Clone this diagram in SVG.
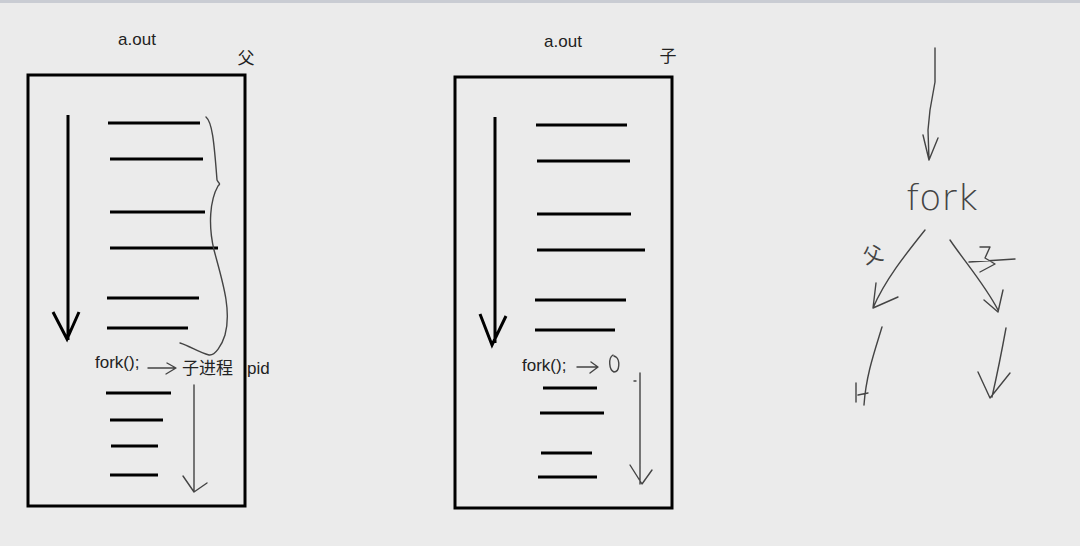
<svg xmlns="http://www.w3.org/2000/svg" width="1080" height="546" viewBox="0 0 1080 546">
<style>
.box{fill:none;stroke:#000;stroke-width:3}
.bar{stroke:#000;stroke-width:3;fill:none;stroke-linecap:butt}
.big{stroke:#000;stroke-width:3;fill:none;stroke-linejoin:miter}
.pen{stroke:#444;stroke-width:1.4;fill:none;stroke-linecap:round;stroke-linejoin:round}
.t{font-family:"Liberation Sans",Arial,sans-serif;font-size:17px;fill:#222}
.cjk{font-family:"Liberation Sans","Noto Sans CJK SC",sans-serif;font-size:17px;fill:#222}
.hand{font-family:"DejaVu Sans","Noto Sans CJK SC",sans-serif;fill:#444}
</style>
<rect width="1080" height="546" fill="#ebebeb"/>
<rect width="1080" height="3" fill="#c9ccd3"/>

<g id="parent">
<rect class="box" x="28" y="75" width="217" height="431"/>
<text class="t" x="137" y="45" text-anchor="middle">a.out</text>
<text class="cjk" x="246" y="64" text-anchor="middle" font-size="15">父</text>
<path class="big" d="M68 115V340M53 312L67 339L79 312"/>
<path class="bar" d="M108 123H200M110 159H203M110 212H205M110 248H218M107 298H199M107 328H188M106 393H171M110 420H163M111 446H158M110 475H158"/>
<text class="t" x="95" y="368">fork();</text>
<path class="pen" d="M148 368H175M167 363L176 368L166 374"/>
<text class="cjk" x="182" y="374">子进程</text>
<text class="t" x="247" y="374">pid</text>
<path class="pen" d="M194 385V492M183 476L194 492L207 483"/>
<path class="pen" d="M206 117C212 122 214 140 217 180C219 184 221 183 218 186C210 200 208 225 214 250C222 280 232 310 225 335C222 345 215 356 209 355C198 352 190 346 180 343"/>
</g>

<g id="child">
<rect class="box" x="455" y="77" width="217" height="431"/>
<text class="t" x="563" y="47" text-anchor="middle">a.out</text>
<text class="cjk" x="668" y="62" text-anchor="middle" font-size="15">子</text>
<path class="big" d="M495 117V343M480 314L492 345L506 316"/>
<path class="bar" d="M536 125H627M537 161H630M537 214H631M537 250H645M535 300H626M535 330H615M543 388H597M540 413H604M541 453H592M538 477H597"/>
<text class="t" x="522" y="371">fork();</text>
<path class="pen" d="M577 367H597M591 362L598 367L590 373"/>
<path class="pen" d="M613 355C608 358 609 370 614 372C620 372 620 360 616 357L614 356"/>
<path class="pen" d="M640 373V484M630 465L642 484L652 470M634 381H636"/>
</g>

<g id="sketch">
<path class="pen" d="M935 48V82L930 110L928 130L929 160M923 135L929 160L938 138"/>
<text class="hand" x="942" y="210" text-anchor="middle" font-size="36" font-weight="200" textLength="72" lengthAdjust="spacingAndGlyphs">fork</text>
<path class="pen" d="M925 230C905 255 885 280 873 308M876 283L873 308L898 297"/>
<text class="hand" x="873" y="262" text-anchor="middle" font-size="20" transform="rotate(-15 873 255)">父</text>
<path class="pen" d="M950 240C965 262 985 285 998 310M984 300L998 312L1003 290"/>
<path class="pen" d="M980 247H990L985 258L995 264L980 272M969 262L1015 259"/>
<path class="pen" d="M882 327C875 350 866 375 864 405M856 383V402M858 395L868 393"/>
<path class="pen" d="M1006 328C1002 350 997 375 992 397M978 372L990 398L1010 373"/>
</g>
</svg>
